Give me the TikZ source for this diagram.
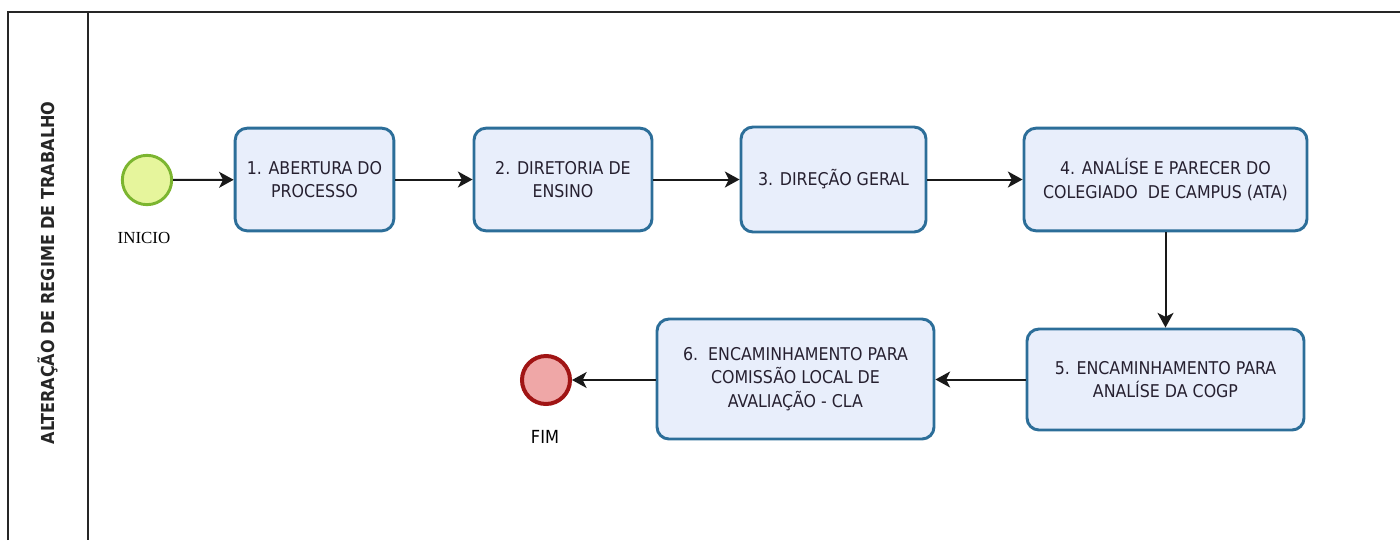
\documentclass[tikz,border=0pt]{standalone}
\usepackage{fontspec}
\setmainfont{DejaVu Sans Condensed}
\newfontfamily\serifl{Liberation Serif}
\usetikzlibrary{arrows.meta}
\definecolor{boxfill}{HTML}{E8EEFB}
\definecolor{boxdraw}{HTML}{2C6E99}
\definecolor{startfill}{HTML}{E6F59C}
\definecolor{startdraw}{HTML}{7CB530}
\definecolor{endfill}{HTML}{EFA7A7}
\definecolor{enddraw}{HTML}{A01414}
\definecolor{txt}{HTML}{262030}
\tikzset{
  task/.style={draw=boxdraw, fill=boxfill, line width=2.2pt, rounded corners=9pt, inner sep=0pt, align=center, text=txt, font=\fontsize{13.2}{17.5}\selectfont},
  startev/.style={circle, draw=startdraw, fill=startfill, line width=2.2pt, minimum size=37pt, inner sep=0pt},
  endev/.style={circle, draw=enddraw, fill=endfill, line width=3pt, minimum size=36pt, inner sep=0pt},
  evlabel/.style={text=black, font=\fontsize{13.5}{16}\selectfont},
  flow/.style={line width=1.5pt, draw=black!90, -{Stealth[length=11pt,width=12pt,inset=3pt]}},
  frame/.style={line width=1.2pt, draw=black!85}
}
\begin{document}
\begin{tikzpicture}[x=0.75pt,y=-0.75pt]
\useasboundingbox (0,0) rectangle (1400,540);
\coordinate (tl) at (8,12);
\coordinate (tr) at (1400,12);
\coordinate (bl) at (8,540);
\coordinate (dt) at (88,12);
\coordinate (db) at (88,540);
\draw[frame] (bl) -- (tl) -- (tr);
\draw[frame] (dt) -- (db);
\node[rotate=90, font=\bfseries\fontsize{13.4}{15}\selectfont, text=black!85] (lane) at (48,273) {ALTERAÇÃO DE REGIME DE TRABALHO};

\node[startev] (start) at (147,180) {};
\node[evlabel, font=\serifl\fontsize{12.7}{14}\selectfont] (startlbl) at (144,238) {INICIO};

\node[task, minimum width=119pt, minimum height=77pt] (t1) at (314.5,179.5) {1. ABERTURA DO\\PROCESSO};
\node[task, minimum width=133.5pt, minimum height=77pt] (t2) at (563,179.5) {2. DIRETORIA DE\\ENSINO};
\node[task, minimum width=138.75pt, minimum height=78.75pt] (t3) at (833.5,179.5) {3. DIREÇÃO GERAL};
\node[task, minimum width=212.25pt, minimum height=77pt] (t4) at (1165.5,179.5) {4. ANALÍSE E PARECER DO\\COLEGIADO\ \ DE CAMPUS (ATA)};
\node[task, minimum width=207.75pt, minimum height=75.75pt] (t5) at (1165.5,379.5) {5. ENCAMINHAMENTO PARA\\ANALÍSE DA COGP};
\node[task, minimum width=207.75pt, minimum height=90pt] (t6) at (795.5,379) {6.\ \ ENCAMINHAMENTO PARA\\COMISSÃO LOCAL DE\\AVALIAÇÃO - CLA};

\node[endev] (end) at (546,380) {};
\node[evlabel] (endlbl) at (545,437) {FIM};

\draw[flow] (start) -- (t1);
\draw[flow] (t1) -- (t2);
\draw[flow] (t2) -- (t3);
\draw[flow] (t3) -- (t4);
\draw[flow] (t4) -- (t5);
\draw[flow] (t5.west) -- (t6.east |- t5.west);
\draw[flow] (t6.west |- end) -- (end);
\end{tikzpicture}
\end{document}
